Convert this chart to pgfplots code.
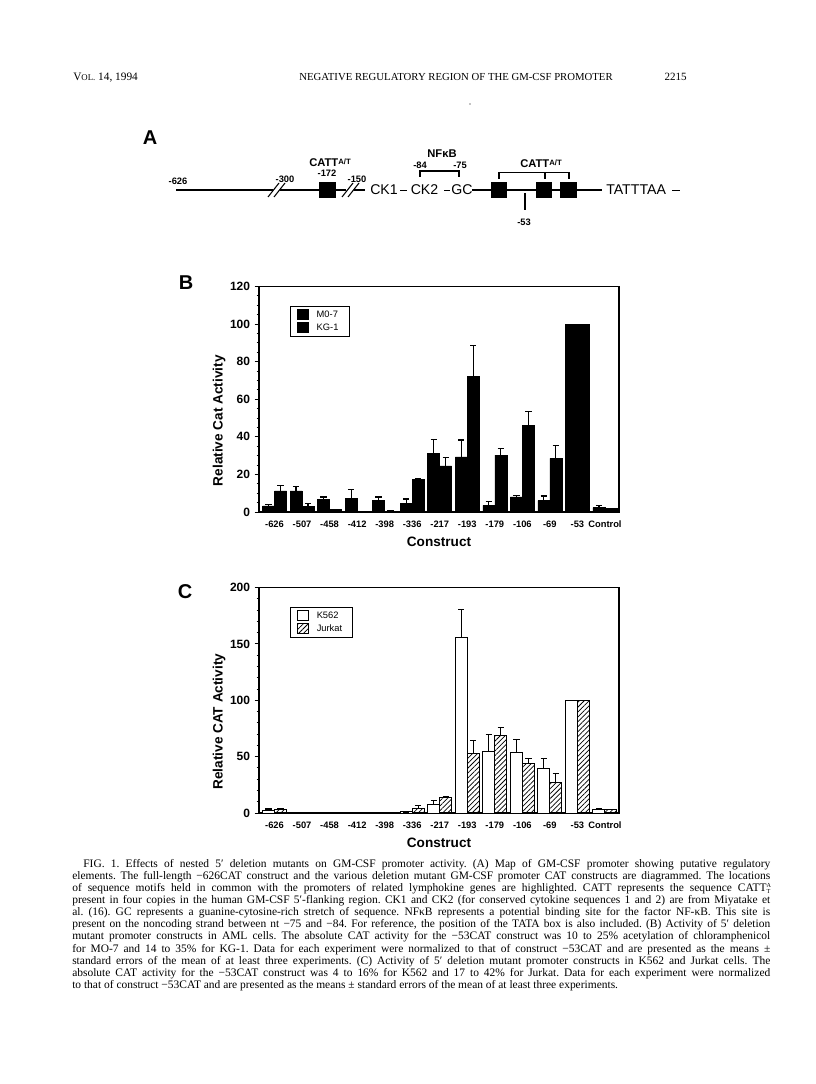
\documentclass[border=0pt]{standalone}
\usepackage{fontspec}
\setmainfont{Liberation Serif}
\newfontfamily\hv{Liberation Sans}
\usepackage{pgfplots}
\pgfplotsset{compat=1.18}
\usetikzlibrary{patterns.meta}

\pgfplotsset{
  gmcsf/.style={
    scale only axis, width=270pt, height=169.1pt,
    xmin=-0.563, xmax=12.51, ymin=0,
    xtick={0,...,12},
    xticklabels={-626,-507,-458,-412,-398,-336,-217,-193,-179,-106,-69,-53,Control},
    xtick style={draw=none},
    ytick pos=left, tick align=outside,
    major tick length=3.2pt, minor tick length=1.8pt,
    every tick/.style={black, line width=0.7pt},
    axis line style={line width=0.9pt},
    /pgf/number format/assume math mode=true,
    x tick label style={font=\hv\bfseries\fontsize{7}{8}\selectfont},
    y tick label style={font=\hv\bfseries\fontsize{9}{10}\selectfont},
    label style={font=\hv\bfseries\fontsize{10.2}{12}\selectfont},
    ylabel style={at={(ticklabel cs:0.405)}},
    ylabel shift=-3.5pt,
    xlabel={Construct},
    ybar=0pt, bar width=9pt,
    error bars/y dir=plus, error bars/y explicit,
    error bars/error bar style={line width=0.85pt, black},
    error bars/error mark options={rotate=90, line width=0.85pt, black, mark size=2.4pt},
    legend cell align=left,
    legend style={at={(0.086,0.913)}, anchor=north west, draw=black, line width=0.7pt,
      font=\hv\fontsize{7}{8}\selectfont, inner xsep=2pt, inner ysep=1pt, row sep=-0.5pt},
    legend image code/.code={\draw[##1, line width=0.6pt] (0pt,-3.4pt) rectangle (8pt,4pt); \path (-3pt,0pt) (12pt,0pt);},
  },
}

\begin{document}
\begin{tikzpicture}
\useasboundingbox (0pt,0pt) rectangle (612pt,-813pt);
\fill[white] (0pt,0pt) rectangle (612pt,-813pt);
\begin{scope}[x=0.75pt,y=-0.75pt]
% running head
\node[anchor=base west, inner sep=0] at (73,81) {{\fontsize{8.5}{9}\selectfont V\fontsize{6.6}{7}\selectfont OL.}\fontsize{8.5}{9}\selectfont{} 14, 1994};
\node[anchor=base east, inner sep=0, font=\fontsize{8.05}{9}\selectfont] at (613,81) {NEGATIVE REGULATORY REGION OF THE GM-CSF PROMOTER};
\node[anchor=base east, inner sep=0, font=\fontsize{8.3}{9}\selectfont] at (687,81) {2215};
\fill (470,104) circle (0.6);

% panel letters
\node[font=\hv\bfseries\fontsize{15}{16}\selectfont] at (150,138) {A};
\node[font=\hv\bfseries\fontsize{15}{16}\selectfont] at (186,283) {B};
\node[font=\hv\bfseries\fontsize{15}{16}\selectfont] at (185,592) {C};

% panel A: promoter map
\begin{scope}[line width=0.8pt]
\draw (176,190) -- (273,190);
\draw (268,197) -- (279,183);
\draw (274,197) -- (285,183);
\draw (279.5,190) -- (319,190);
\fill (319,182) rectangle (336,198);
\draw (336,190) -- (346,190);
\draw (342,197) -- (353,183);
\draw (348,197) -- (359,183);
\draw (354,190) -- (365,190);
\draw (400,190.5) -- (407,190.5);
\draw (444,190.5) -- (450,190.5);
\draw (472,190) -- (491,190);
\fill (491,182) rectangle (507,198);
\draw (507,190) -- (536,190);
\fill (536,182) rectangle (552,198);
\draw (552,190) -- (560,190);
\fill (560,182) rectangle (577,198);
\draw (577,190) -- (602,190);
\draw (672,190.5) -- (680,190.5);
\draw (525,193) -- (525,210.5);
\draw (420,177) -- (420,171) -- (459,171) -- (459,177);
\draw (499,179) -- (499,172.7) -- (569,172.7) -- (569,179);
\draw (545,172.7) -- (545,179);
\end{scope}
\begin{scope}[font=\hv\bfseries\fontsize{7}{8}\selectfont, inner sep=0]
\node at (178,181) {-626};
\node at (285,179) {-300};
\node at (327,173.5) {-172};
\node at (357,179) {-150};
\node at (420,165.5) {-84};
\node at (460,165.5) {-75};
\node at (524,222) {-53};
\end{scope}
\begin{scope}[font=\hv\fontsize{10.6}{12}\selectfont, inner sep=0]
\node at (384,190) {CK1};
\node at (424.5,190) {CK2};
\node at (462,190) {GC};
\node[anchor=west] at (606,190) {TATTTAA};
\end{scope}
\begin{scope}[font=\hv\bfseries\fontsize{8.4}{9}\selectfont, inner sep=0]
\node at (330,163) {CATT\raisebox{1.6pt}{\fontsize{5.8}{6}\selectfont A/T}};
\node at (541,164) {CATT\raisebox{1.6pt}{\fontsize{5.8}{6}\selectfont A/T}};
\node at (442,154) {NFκB};
\end{scope}

% caption
\node[anchor=north west, inner sep=0, text width=523.5pt, align=justify,
      font=\fontsize{8.6}{9.08}\selectfont\frenchspacing] at (72,859) {\hspace*{8.3pt}FIG. 1. Effects of nested 5′ deletion mutants on GM-CSF promoter activity. (A) Map of GM-CSF promoter showing putative regulatory\linebreak
elements. The full-length −626CAT construct and the various deletion mutant GM-CSF promoter CAT constructs are diagrammed. The locations\linebreak
of sequence motifs held in common with the promoters of related lymphokine genes are highlighted. CATT represents the sequence CATT\rlap{\raisebox{3pt}{\fontsize{4.6}{5}\selectfont A}}\raisebox{-1.6pt}{\fontsize{4.6}{5}\selectfont T}\linebreak
present in four copies in the human GM-CSF 5′-flanking region. CK1 and CK2 (for conserved cytokine sequences 1 and 2) are from Miyatake et\linebreak
al. (16). GC represents a guanine-cytosine-rich stretch of sequence. NFκB represents a potential binding site for the factor NF-κB. This site is\linebreak
present on the noncoding strand between nt −75 and −84. For reference, the position of the TATA box is also included. (B) Activity of 5′ deletion\linebreak
mutant promoter constructs in AML cells. The absolute CAT activity for the −53CAT construct was 10 to 25\% acetylation of chloramphenicol\linebreak
for MO-7 and 14 to 35\% for KG-1. Data for each experiment were normalized to that of construct −53CAT and are presented as the means ±\linebreak
standard errors of the mean of at least three experiments. (C) Activity of 5′ deletion mutant promoter constructs in K562 and Jurkat cells. The\linebreak
absolute CAT activity for the −53CAT construct was 4 to 16\% for K562 and 17 to 42\% for Jurkat. Data for each experiment were normalized\linebreak
to that of construct −53CAT and are presented as the means ± standard errors of the mean of at least three experiments.};
\end{scope}

% panel B
\begin{axis}[gmcsf, at={(194.25pt,-384pt)}, anchor=south west,
  ymax=120, ytick={0,20,...,120}, minor y tick num=3,
  ylabel={Relative Cat Activity}]
\addplot[fill=black, draw=black] coordinates {
  (0,3.2) +- (0,1.0)  (1,11.3) +- (0,2.2) (2,6.9) +- (0,1.1) (3,7.4) +- (0,4.5)
  (4,6.0) +- (0,2.0)  (5,4.4) +- (0,2.5)  (6,31.4) +- (0,7.3) (7,29.3) +- (0,9.0)
  (8,3.5) +- (0,2.2)  (9,8.0) +- (0,0.9)  (10,6.0) +- (0,2.5) (11,100) +- (0,0)
  (12,2.3) +- (0,1.2)};
\addplot[fill=black, draw=black] coordinates {
  (0,11.3) +- (0,2.7) (1,2.8) +- (0,1.5) (2,1.2) +- (0,0) (3,0.2) +- (0,0)
  (4,0.5) +- (0,0)   (5,17.2) +- (0,0.4) (6,24.6) +- (0,4.3) (7,72.3) +- (0,16.4)
  (8,30.3) +- (0,3.6) (9,45.9) +- (0,7.5) (10,28.5) +- (0,7.1) (11,100) +- (0,0)
  (12,1.8) +- (0,0)};
\legend{M0-7\hspace*{4pt},KG-1\hspace*{4pt}}
\end{axis}

% panel C
\begin{axis}[gmcsf, at={(194.25pt,-609.75pt)}, anchor=south west,
  ymax=200, ytick={0,50,...,200}, minor y tick num=4,
  ylabel={Relative CAT Activity}]
\addplot[fill=white, draw=black, line width=0.75pt] coordinates {
  (0,2.4) +- (0,1.1) (1,0.8) +- (0,0) (2,0.3) +- (0,0) (3,0.3) +- (0,0)
  (4,0.3) +- (0,0)   (5,0.9) +- (0,0) (6,7.4) +- (0,3.8) (7,155.8) +- (0,24.7)
  (8,54.6) +- (0,14.7) (9,53.4) +- (0,12.1) (10,39.2) +- (0,9.2) (11,100) +- (0,0)
  (12,2.7) +- (0,0.8)};
\addplot[pattern={Lines[angle=45,distance=2.6pt,line width=0.55pt]}, draw=black, line width=0.75pt] coordinates {
  (0,3.0) +- (0,0.5) (1,0.5) +- (0,0) (2,0.3) +- (0,0) (3,0.5) +- (0,0)
  (4,0.5) +- (0,0)   (5,4.1) +- (0,2.7) (6,13.6) +- (0,1.1) (7,52.5) +- (0,12.1)
  (8,68.7) +- (0,7.4) (9,43.7) +- (0,4.4) (10,27.4) +- (0,7.7) (11,100) +- (0,0)
  (12,2.7) +- (0,0.5)};
\legend{K562\hspace*{4pt},Jurkat\hspace*{4pt}}
\end{axis}
\end{tikzpicture}
\end{document}
